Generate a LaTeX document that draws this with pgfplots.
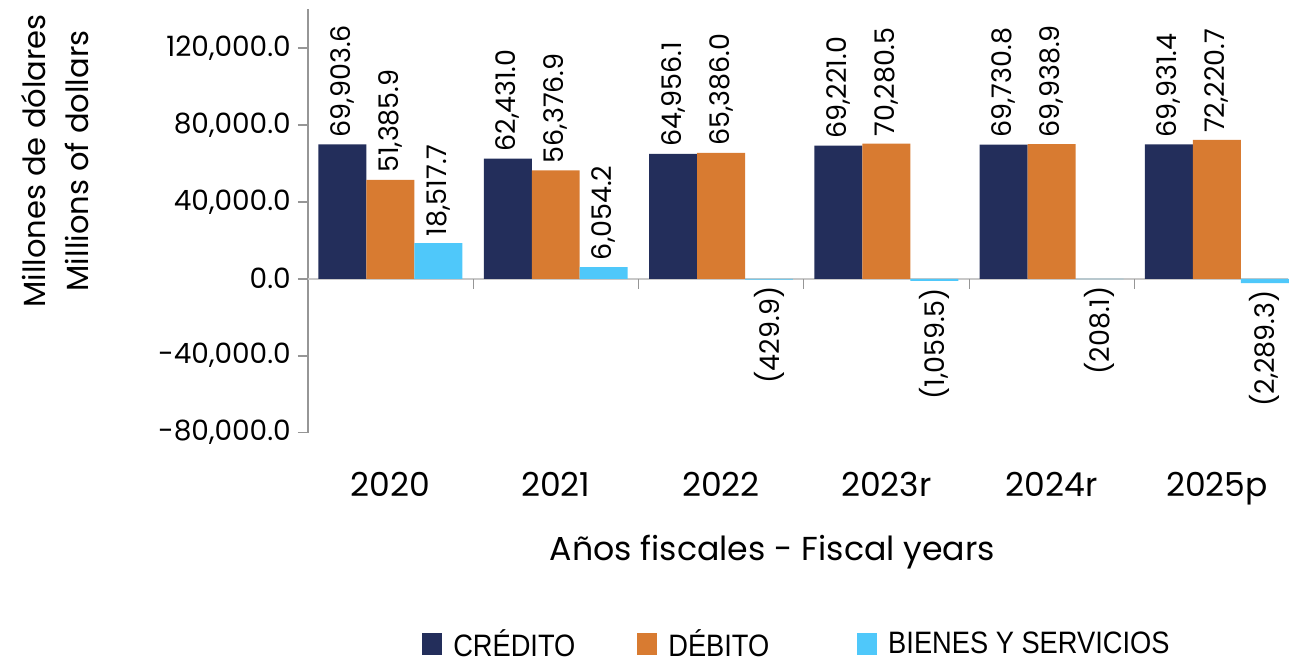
\documentclass[border=0pt]{standalone}
\usepackage{pgfplots}
\pgfplotsset{compat=1.18}
\usepackage{pgfplotstable}
\usepackage{fontspec}
\setmainfont{Poppins}
\newfontfamily\legfont[FakeStretch=0.88]{Liberation Sans}
\definecolor{cnavy}{RGB}{35,46,91}
\definecolor{corange}{RGB}{216,123,49}
\definecolor{cblue}{RGB}{79,200,250}
\definecolor{axgray}{RGB}{150,150,150}
\definecolor{zgray}{RGB}{200,200,200}

\pgfplotstableread{
x y lab
0 69903.6 69,903.6
1 62431.0 62,431.0
2 64956.1 64,956.1
3 69221.0 69,221.0
4 69730.8 69,730.8
5 69931.4 69,931.4
}\credito
\pgfplotstableread{
x y lab
0 51385.9 51,385.9
1 56376.9 56,376.9
2 65386.0 65,386.0
3 70280.5 70,280.5
4 69938.9 69,938.9
5 72220.7 72,220.7
}\debito
\pgfplotstableread{
x y lab
0 18517.7 18,517.7
1 6054.2 6,054.2
}\bienespos
\pgfplotstableread{
x y lab
2 -429.9 (429.9)
3 -1059.5 (1,059.5)
4 -208.1 (208.1)
5 -2289.3 (2,289.3)
}\bienesneg

\pgfplotsset{
  mylabels/.style={
    nodes near coords,
    point meta=explicit symbolic,
    every node near coord/.append style={rotate=90, anchor=#1, font=\fontsize{13.5}{16}\selectfont, text=black},
  }
}

\begin{document}
\begin{tikzpicture}
\begin{axis}[
  scale only axis, width=490.5pt, height=211.75pt,
  clip=false,
  ybar=0pt, bar width=24pt,
  xmin=-0.5, xmax=5.43, ymin=-80000, ymax=140000,
  axis x line*=bottom, axis y line*=left,
  x axis line style={draw=none},
  y axis line style={axgray, line width=0.8pt},
  xtick={0,...,5}, xticklabels={2020,2021,2022,2023r,2024r,2025p},
  x tick style={draw=none},
  xticklabel style={font=\fontsize{16.5}{19}\selectfont, anchor=base, yshift=-27pt},
  ytick={-80000,-40000,0,40000,80000,120000},
  scaled y ticks=false,
  y tick style={axgray, line width=0.8pt},
  tick align=outside, major tick length=5pt,
  yticklabel style={font=\fontsize{14}{16}\selectfont, /pgf/number format/.cd, fixed, fixed zerofill, precision=1, 1000 sep={,}, assume math mode=true},
  ylabel={Millones de dólares\\Millions of dollars},
  ylabel style={at={(axis description cs:-0.258,0.642)}, anchor=center, align=center, font=\fontsize{15.3}{21.5}\selectfont},
  xlabel={Años fiscales - Fiscal years},
  xlabel style={at={(axis description cs:0.474,-0.283)}, anchor=center, font=\fontsize{16.6}{19}\selectfont},
  legend columns=3,
  legend style={at={(axis description cs:0.500,-0.5)}, anchor=center, draw=none, font=\legfont\fontsize{15.5}{18}\selectfont,
    /tikz/every even column/.append style={column sep=29pt},
    /tikz/every odd column/.append style={column sep=3.5pt}},
]
\draw[zgray, line width=1pt] (axis cs:-0.5,0) -- (axis cs:5.43,0);
\draw[axgray] (axis cs:0.5,0) -- ([yshift=-5pt]axis cs:0.5,0);
\draw[axgray] (axis cs:1.5,0) -- ([yshift=-5pt]axis cs:1.5,0);
\draw[axgray] (axis cs:2.5,0) -- ([yshift=-5pt]axis cs:2.5,0);
\draw[axgray] (axis cs:3.5,0) -- ([yshift=-5pt]axis cs:3.5,0);
\draw[axgray] (axis cs:4.5,0) -- ([yshift=-5pt]axis cs:4.5,0);
\addplot[fill=cnavy, draw=none, bar shift=-24pt, mylabels=west, legend image code/.code={\fill[cnavy] (0pt,-5.5pt) rectangle (10pt,5.5pt);}] table[x=x, y=y, meta=lab] {\credito};
\addlegendentry{CRÉDITO}
\addplot[fill=corange, draw=none, bar shift=0pt, mylabels=west, legend image code/.code={\fill[corange] (0pt,-5.5pt) rectangle (10pt,5.5pt);}] table[x=x, y=y, meta=lab] {\debito};
\addlegendentry{DÉBITO\hspace*{13pt}}
\addplot[fill=cblue, draw=none, bar shift=24pt, mylabels=west, legend image code/.code={\fill[cblue] (0pt,-5.5pt) rectangle (10pt,5.5pt);}] table[x=x, y=y, meta=lab] {\bienespos};
\addlegendentry{BIENES Y SERVICIOS}
\addplot[fill=cblue, draw=none, bar shift=24pt, mylabels=east, forget plot] table[x=x, y=y, meta=lab] {\bienesneg};
\path (axis description cs:-0.314,1.0224) (axis description cs:1.0,-0.536);
\end{axis}
\end{tikzpicture}
\end{document}
